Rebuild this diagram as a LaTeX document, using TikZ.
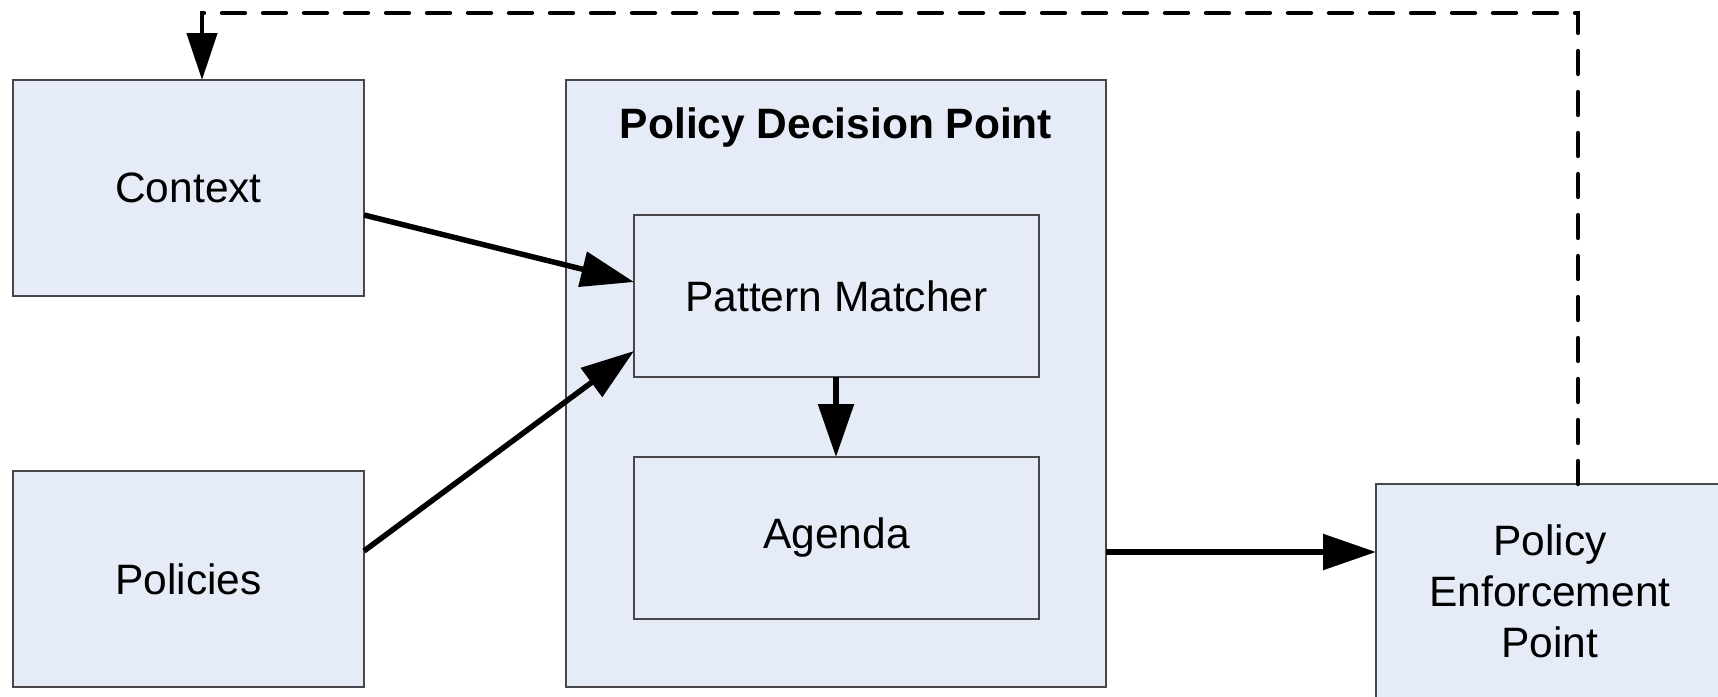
\documentclass[tikz,border=0pt]{standalone}
\usepackage{fontspec}
\setmainfont{Liberation Sans}
\usetikzlibrary{arrows.meta}
\definecolor{boxfill}{RGB}{229,236,247}
\definecolor{boxline}{RGB}{70,70,75}
\tikzset{
  box/.style={draw=boxline, fill=boxfill, line width=1.3pt, inner sep=0pt, outer sep=0pt,
    align=center, font=\fontsize{42.5}{51}\selectfont},
  arr/.style={line width=5.5pt, -{Triangle[length=53pt,width=35pt]}},
  dasharr/.style={line width=4.3pt, line cap=round, dash pattern=on 23pt off 18pt,
    -{Triangle[length=47pt,width=30pt]}},
}
\begin{document}
\begin{tikzpicture}[x=1pt,y=-1pt]
\useasboundingbox (0,0) rectangle (1718,696);
\fill[white] (0,0) rectangle (1718,696);
\node[box, minimum width=351pt, minimum height=216pt] (ctx) at (188.5,188) {Context};
\node[box, minimum width=351pt, minimum height=216pt] (pol) at (188.5,579) {Policies};
\node[box, minimum width=540pt, minimum height=607pt] (pdp) at (836,383.5) {};
\node[font=\fontsize{42.5}{51}\selectfont\bfseries, inner sep=0pt] (pdpt) at (836,128) {Policy Decision Point};
\node[box, minimum width=405pt, minimum height=162pt] (pm) at (836.5,296) {Pattern Matcher};
\node[box, minimum width=405pt, minimum height=162pt] (ag) at (836.5,538) {Agenda};
\node[box, minimum width=348pt, minimum height=214pt] (pep) at (1550,591) {Policy\\Enforcement\\Point};
\coordinate (top) at (1578,13);
\draw[arr] ([yshift=-27pt]ctx.east) -- ([yshift=14pt]pm.west);
\draw[arr] ([yshift=28pt]pol.east) -- ([yshift=-55pt]pm.west);
\draw[arr] ([xshift=-0.5pt]pm.south) -- ([xshift=-0.5pt]ag.north);
\draw[arr] ([yshift=-168.5pt]pdp.east) -- ([yshift=-168.5pt]pdp.east -| pep.west);
\draw[dasharr] ([xshift=28pt]pep.north) -- (top) -| ([xshift=13.5pt]ctx.north);
\end{tikzpicture}
\end{document}
